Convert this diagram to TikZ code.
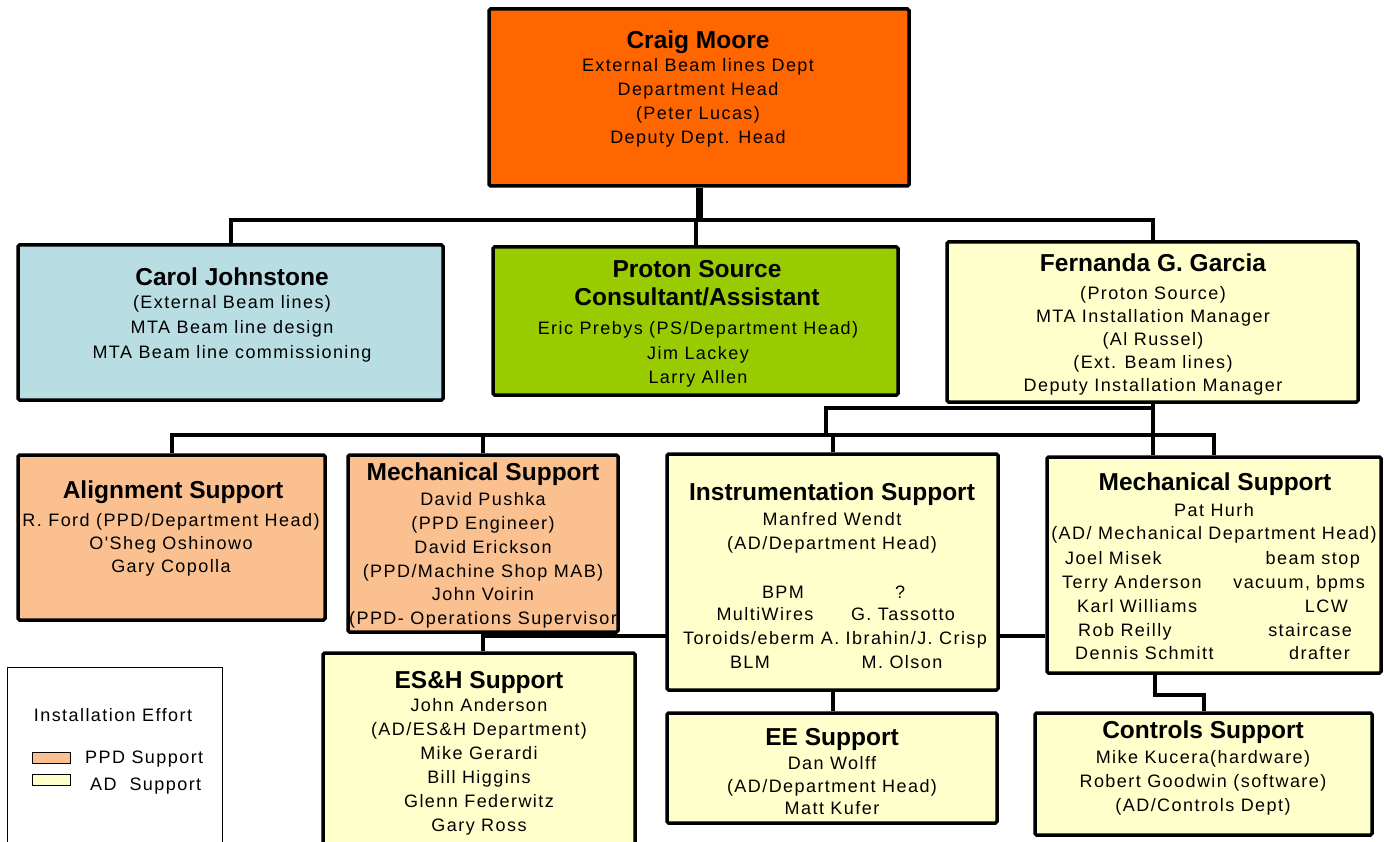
\documentclass[tikz,border=0pt]{standalone}
\usepackage{fontspec}
\setmainfont{Liberation Sans}
\newfontfamily\bodyf[LetterSpace=8]{Liberation Sans}
\newfontfamily\titlef{Liberation Sans}
\usetikzlibrary{calc}
\definecolor{topor}{HTML}{FF6600}
\definecolor{lblue}{HTML}{B8DEE3}
\definecolor{lgreen}{HTML}{99CC00}
\definecolor{peach}{HTML}{FAC090}
\definecolor{lyel}{HTML}{FFFFCC}
\pgfdeclarelayer{bg}
\pgfsetlayers{bg,main}
\tikzset{
  box/.style={draw=black, line width=3.5pt, rounded corners=1.5pt, inner sep=0pt},
  conn/.style={draw=black, line width=4pt},
  ttl/.style={font=\titlef\bfseries\fontsize{24.5}{28}\selectfont, align=center, anchor=north, inner sep=0pt},
  bdy/.style={font=\bodyf\fontsize{18}{#1}\selectfont, align=center, anchor=north, inner sep=0pt},
  bdy/.default=24,
  txt/.style={font=\bodyf\fontsize{18}{24}\selectfont, inner sep=0pt},
  swatch/.style={draw=black, line width=1pt, minimum width=38pt, minimum height=11pt, inner sep=0pt}
}
\begin{document}
\begin{tikzpicture}[x=1pt,y=-1pt]
\useasboundingbox (0,0) rectangle (1384,842);
% boxes
\node[box, fill=topor, minimum width=420pt, minimum height=177pt] (craig) at (699,97.5) {};
\node[box, fill=lblue, minimum width=425pt, minimum height=155pt] (carol) at (230.5,322.5) {};
\node[box, fill=lgreen, minimum width=405pt, minimum height=148pt] (proton) at (695.5,321) {};
\node[box, fill=lyel, minimum width=411pt, minimum height=160pt] (fern) at (1152.5,322) {};
\node[box, fill=peach, minimum width=307pt, minimum height=165pt] (align) at (171.5,537.5) {};
\node[box, fill=peach, minimum width=270pt, minimum height=177pt] (mechp) at (483,543.5) {};
\node[box, fill=lyel, minimum width=331pt, minimum height=236pt] (instr) at (832.5,572) {};
\node[box, fill=lyel, minimum width=334pt, minimum height=216pt] (mecha) at (1214,565) {};
\node[box, fill=lyel, minimum width=312pt, minimum height=197pt] (esh) at (479,751.5) {};
\node[box, fill=lyel, minimum width=330pt, minimum height=110pt] (ee) at (832,768) {};
\node[box, fill=lyel, minimum width=337pt, minimum height=122pt] (ctrl) at (1203.5,774) {};
\node[draw=black, line width=1pt, fill=white, minimum width=215pt, minimum height=193pt, inner sep=0pt] (legend) at (114.5,763.5) {};

% connectors
\coordinate (bus1) at (698,220);
\coordinate (j1) at (826,408);
\coordinate (bus2) at (826,435);
\coordinate (bus3) at (483,636);
\coordinate (k1) at (1155,695);
\begin{pgfonlayer}{bg}
\fill[white] (0,0) rectangle (1384,842);
\draw[conn, line width=7pt] (craig.south) -- (craig.south |- bus1);
\draw[conn] (carol.north) |- (bus1) -| (fern.north);
\draw[conn] (proton.north) -- (proton.north |- bus1);
\draw[conn] (fern.south) -- (fern.south |- mecha.north);
\draw[conn] (fern.south |- j1) -- (j1) -- (bus2);
\draw[conn] (align.north) |- (bus2) -| (mecha.north);
\draw[conn] (mechp.north) -- (mechp.north |- bus2);
\draw[conn] (instr.north) -- (instr.north |- bus2);
\draw[conn] (mechp.south) -- (mechp.south |- esh.north);
\draw[conn] (bus3) -- (bus3 -| mecha.west);
\draw[conn] (instr.south) -- (instr.south |- ee.north);
\draw[conn] (k1 |- mecha.south) -- (k1) -| (ctrl.north);
\end{pgfonlayer}

% texts
\node[ttl] (craigT) at (698,31) {Craig Moore};
\node[bdy] (craigB) at (698,58.5) {External Beam lines Dept\\Department Head\\(Peter Lucas)\\Deputy Dept. Head};

\node[ttl] (carolT) at (232,268) {Carol Johnstone};
\node[bdy=25] (carolB) at (232,295.5) {(External Beam lines)\\MTA Beam line design\\MTA Beam line commissioning};

\node[ttl] (protonT) at (697,260) {Proton Source\\Consultant/Assistant};
\node[bdy=24.5] (protonB) at (698,321.5) {Eric Prebys (PS/Department Head)\\Jim Lackey\\Larry Allen};

\node[ttl] (fernT) at (1153,254) {Fernanda G. Garcia};
\node[bdy=23] (fernB) at (1153,286.5) {(Proton Source)\\MTA Installation Manager\\(Al Russel)\\(Ext. Beam lines)\\Deputy Installation Manager};

\node[ttl] (alignT) at (173,481) {Alignment Support};
\node[bdy=23] (alignB) at (171,513.5) {R. Ford (PPD/Department Head)\\O'Sheg Oshinowo\\Gary Copolla};

\node[ttl] (mechpT) at (483,463) {Mechanical Support};
\node[bdy=23.8] (mechpB) at (483,492.5) {David Pushka\\(PPD Engineer)\\David Erickson\\(PPD/Machine Shop MAB)\\John Voirin\\(PPD- Operations Supervisor};

\node[ttl] (instrT) at (832,483) {Instrumentation Support};
\node[bdy] (instrB) at (832,512.5) {Manfred Wendt\\(AD/Department Head)};
\node[txt, anchor=base] (i1a) at (783,598.5) {BPM};
\node[txt, anchor=base] (i1b) at (900,598.5) {?};
\node[txt, anchor=base] (i2a) at (765,620.5) {MultiWires};
\node[txt, anchor=base] (i2b) at (903,620.5) {G. Tassotto};
\node[txt, anchor=base] (i3) at (835,644.5) {Toroids/eberm A. Ibrahin/J. Crisp};
\node[txt, anchor=base] (i4a) at (750,668.5) {BLM};
\node[txt, anchor=base] (i4b) at (902,668.5) {M. Olson};

\node[ttl] (mechaT) at (1215,473) {Mechanical Support};
\node[bdy=23] (mechaB) at (1214,503.5) {Pat Hurh\\(AD/ Mechanical Department Head)};
\node[txt, anchor=base west] (m1a) at (1065,564.5) {Joel Misek};
\node[txt, anchor=base west] (m2a) at (1062,588.5) {Terry Anderson};
\node[txt, anchor=base west] (m3a) at (1077,612.5) {Karl Williams};
\node[txt, anchor=base west] (m4a) at (1078,636.5) {Rob Reilly};
\node[txt, anchor=base west] (m5a) at (1075,659.5) {Dennis Schmitt};
\node[txt, anchor=base east] (m1b) at (1360,564.5) {beam stop};
\node[txt, anchor=base east] (m2b) at (1365,588.5) {vacuum, bpms};
\node[txt, anchor=base east] (m3b) at (1348,612.5) {LCW};
\node[txt, anchor=base east] (m4b) at (1352,636.5) {staircase};
\node[txt, anchor=base east] (m5b) at (1350,659.5) {drafter};

\node[ttl] (eshT) at (479,671) {ES\&H Support};
\node[bdy] (eshB) at (479,698.5) {John Anderson\\(AD/ES\&H Department)\\Mike Gerardi\\Bill Higgins\\Glenn Federwitz\\Gary Ross};

\node[ttl] (eeT) at (832,728) {EE Support};
\node[bdy=22.5] (eeB) at (832,756.5) {Dan Wolff\\(AD/Department Head)\\Matt Kufer};

\node[ttl] (ctrlT) at (1203,721) {Controls Support};
\node[bdy] (ctrlB) at (1203,750.5) {Mike Kucera(hardware)\\Robert Goodwin (software)\\(AD/Controls Dept)};

% legend
\node[txt, anchor=base] (legT) at (113,721.5) {Installation Effort};
\node[swatch, fill=peach] (sw1) at (51,757.5) {};
\node[swatch, fill=lyel] (sw2) at (51,780) {};
\node[txt, anchor=base west] (sw1T) at (85,763.5) {PPD Support};
\node[txt, anchor=base west] (sw2T) at (90,790.5) {AD\ \ Support};
\end{tikzpicture}
\end{document}
